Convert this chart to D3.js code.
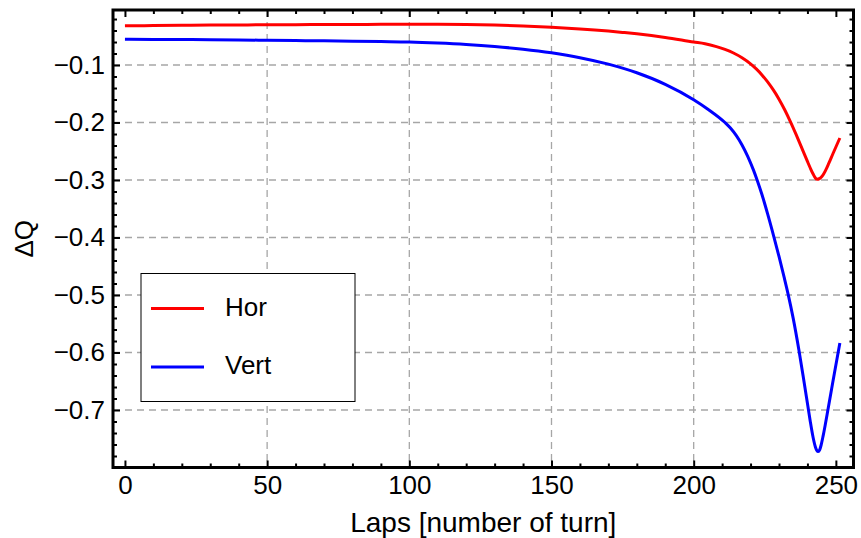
<!DOCTYPE html>
<html>
<head>
<meta charset="utf-8">
<script src="https://cdn.jsdelivr.net/npm/d3@7"></script>
<style>
  html, body { margin: 0; padding: 0; background: #fff; }
  svg { display: block; font-family: "Liberation Sans", Arial, Helvetica, sans-serif; }
</style>
</head>
<body>
<svg id="chart" width="861" height="538"></svg>
<script>
// Tune shift per lap, horizontal plane
const horLaps = [0, 10, 20, 30, 40, 50, 60, 70, 80, 90, 100, 110, 120, 130, 140, 150, 160, 170, 175, 180, 190,
  200, 204, 208, 211, 214, 217, 220, 222, 224, 226, 228, 230, 232, 234, 236, 238, 240, 241, 242, 242.8, 243.4,
  244.2, 245, 245.8, 246.6, 247.5, 249, 251.4];
const horValues = [-0.0318, -0.0314, -0.0310, -0.0306, -0.0303, -0.0300, -0.0298, -0.0296, -0.0294, -0.0293,
  -0.0291, -0.0292, -0.0296, -0.0304, -0.0320, -0.0343, -0.0372, -0.0410, -0.0433, -0.0458, -0.0520,
  -0.0600, -0.0630, -0.0680, -0.0728, -0.0791, -0.0874, -0.0980, -0.1068, -0.1172, -0.1293, -0.1433, -0.1594,
  -0.1778, -0.1984, -0.2207, -0.2441, -0.2677, -0.2791, -0.2896, -0.2965, -0.2988,
  -0.2976, -0.2942, -0.2886, -0.2810, -0.2711, -0.2539, -0.2269];

// Tune shift per lap, vertical plane
const vertLaps = [0, 10, 20, 30, 40, 50, 60, 70, 80, 90, 100, 110, 120, 130, 140, 150, 160, 170, 180, 190,
  200, 205, 211, 213, 215, 217, 219, 221, 222.3, 224, 226, 228.2, 230, 231.8, 233.2, 235, 237, 238.5, 240.15,
  241, 242, 242.8, 243.3, 243.8, 244.3, 244.8, 245.5, 246.3, 247.1, 248.5, 249.5, 250.8, 251.4];
const vertValues = [-0.0552, -0.0554, -0.0557, -0.0560, -0.0564, -0.0569, -0.0574, -0.0579, -0.0585, -0.0592,
  -0.0600, -0.0618, -0.0643, -0.0678, -0.0725, -0.0788, -0.0872, -0.0985, -0.1135, -0.1336,
  -0.1603, -0.1768, -0.2000, -0.2100, -0.2228, -0.2390, -0.2588, -0.2824, -0.3000, -0.3253, -0.3589, -0.3988,
  -0.4330, -0.4690, -0.4984, -0.5407, -0.5957, -0.6411, -0.6931,
  -0.7199, -0.7479, -0.7643, -0.7703, -0.7723, -0.7693, -0.7613, -0.7455, -0.7247, -0.7027, -0.6635, -0.6355,
  -0.5998, -0.5836];

const seriesNames = ["Hor", "Vert"];
const seriesColors = ["#ff0000", "#0000ff"];

const xMajorTicks = [0, 50, 100, 150, 200, 250];
const xGridTicks = [50, 100, 150, 200];
const yMajorTicks = [-0.7, -0.6, -0.5, -0.4, -0.3, -0.2, -0.1];

const xLabel = "Laps [number of turn]";
const yLabel = "ΔQ";

const svg = d3.select("#chart");
const plotLeft = 113, plotRight = 853.5, plotTop = 10, plotBottom = 467.5;

const x = d3.scaleLinear().domain([-4.2, 256.2]).range([plotLeft, plotRight]);
const y = d3.scaleLinear().domain([-0.8, -0.0043]).range([plotBottom, plotTop]);

const xMinor = d3.range(0, 257, 10).filter(v => !xMajorTicks.includes(v));
const yMinorAll = d3.range(-80, 1, 2).map(v => v / 100);
const yMinor = yMinorAll.filter(v => !yMajorTicks.some(t => Math.abs(t - v) < 1e-9) && v <= -0.005);

// grid
const grid = svg.append("g").attr("stroke", "#a6a6a6").attr("stroke-width", 1.3).attr("stroke-dasharray", "7,5");
grid.selectAll("line.gx").data(xGridTicks).join("line")
  .attr("x1", d => x(d)).attr("x2", d => x(d)).attr("y1", plotTop).attr("y2", plotBottom);
grid.selectAll("line.gy").data(yMajorTicks).join("line")
  .attr("y1", d => y(d)).attr("y2", d => y(d)).attr("x1", plotLeft).attr("x2", plotRight);

// curves
const line = d3.line().x(d => x(d[0])).y(d => y(d[1])).curve(d3.curveMonotoneX);
const series = [
  d3.zip(horLaps, horValues),
  d3.zip(vertLaps, vertValues)
];
svg.append("g").selectAll("path").data(series).join("path")
  .attr("d", line)
  .attr("fill", "none")
  .attr("stroke", (d, i) => seriesColors[i])
  .attr("stroke-width", 3)
  .attr("stroke-linejoin", "round");

// axes with inward ticks on all four sides
function styleAxis(g) {
  g.select(".domain").remove();
  g.selectAll(".tick line").attr("stroke", "#000").attr("stroke-width", 2);
  g.selectAll(".tick text").attr("fill", "#000");
}
const fontSize = 26;

svg.append("g").attr("transform", `translate(0,${plotBottom})`)
  .call(d3.axisBottom(x).tickValues(xMajorTicks).tickSize(-7).tickPadding(8).tickFormat(d3.format("d")))
  .call(styleAxis)
  .call(g => g.selectAll("text").attr("font-size", fontSize).attr("font-family", null));
svg.append("g").attr("transform", `translate(0,${plotBottom})`)
  .call(d3.axisBottom(x).tickValues(xMinor).tickSize(-4).tickFormat(""))
  .call(styleAxis);
svg.append("g").attr("transform", `translate(0,${plotTop})`)
  .call(d3.axisTop(x).tickValues(xMajorTicks).tickSize(-7).tickFormat(""))
  .call(styleAxis);
svg.append("g").attr("transform", `translate(0,${plotTop})`)
  .call(d3.axisTop(x).tickValues(xMinor).tickSize(-4).tickFormat(""))
  .call(styleAxis);

svg.append("g").attr("transform", `translate(${plotLeft},0)`)
  .call(d3.axisLeft(y).tickValues(yMajorTicks).tickSize(-7).tickPadding(8).tickFormat(d3.format(".1f")))
  .call(styleAxis)
  .call(g => g.selectAll("text").attr("font-size", fontSize).attr("font-family", null));
svg.append("g").attr("transform", `translate(${plotLeft},0)`)
  .call(d3.axisLeft(y).tickValues(yMinor).tickSize(-4).tickFormat(""))
  .call(styleAxis);
svg.append("g").attr("transform", `translate(${plotRight},0)`)
  .call(d3.axisRight(y).tickValues(yMajorTicks).tickSize(-7).tickFormat(""))
  .call(styleAxis);
svg.append("g").attr("transform", `translate(${plotRight},0)`)
  .call(d3.axisRight(y).tickValues(yMinor).tickSize(-4).tickFormat(""))
  .call(styleAxis);

// frame
svg.append("rect")
  .attr("x", plotLeft).attr("y", plotTop).attr("width", plotRight - plotLeft).attr("height", plotBottom - plotTop)
  .attr("fill", "none").attr("stroke", "#000").attr("stroke-width", 3);

// axis titles
svg.append("text").attr("x", (plotLeft + plotRight) / 2).attr("y", 532)
  .attr("text-anchor", "middle").attr("font-size", 28).text(xLabel);
svg.append("text").attr("transform", `translate(33,${(plotTop + plotBottom) / 2}) rotate(-90)`)
  .attr("text-anchor", "middle").attr("font-size", fontSize).text(yLabel);

// legend
const lg = svg.append("g").attr("transform", "translate(141,273.5)");
lg.append("rect").attr("width", 214).attr("height", 128)
  .attr("fill", "#fff").attr("stroke", "#000").attr("stroke-width", 1);
const rows = lg.selectAll("g.row").data(seriesNames).join("g")
  .attr("transform", (d, i) => `translate(0,${35 + i * 58.5})`);
rows.append("line").attr("x1", 10).attr("x2", 63).attr("y1", 0).attr("y2", 0)
  .attr("stroke", (d, i) => seriesColors[i]).attr("stroke-width", 3);
rows.append("text").attr("x", 84).attr("y", 7).attr("font-size", fontSize).text(d => d);
</script>
</body>
</html>
